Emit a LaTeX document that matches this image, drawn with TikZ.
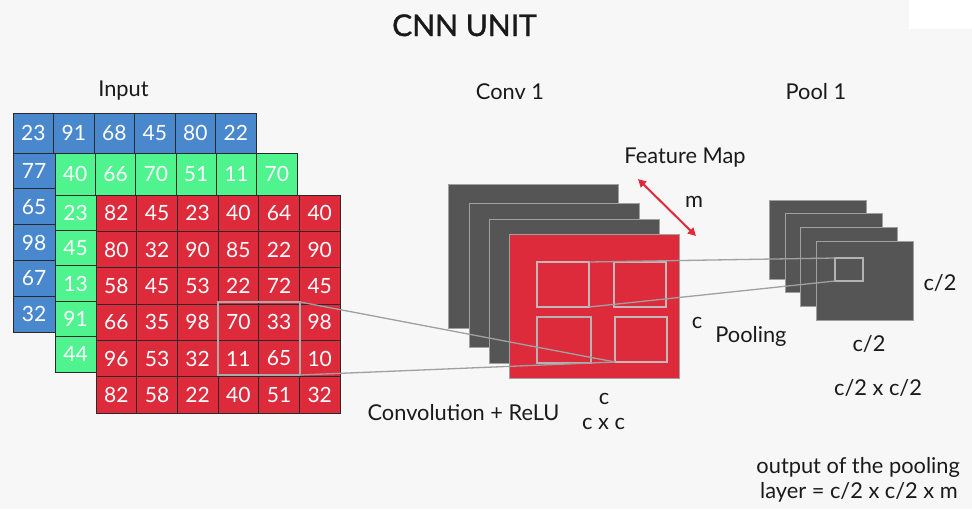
\documentclass[tikz,border=0pt]{standalone}
\usepackage{fontspec}
\setmainfont{Lato}
\newfontfamily\titlefont{Lato}[FakeBold=1.2]
\usetikzlibrary{arrows.meta}
\definecolor{bg}{HTML}{F7F7F7}
\definecolor{cblue}{HTML}{4A88CE}
\definecolor{cgreen}{HTML}{4FF48F}
\definecolor{cred}{HTML}{DD2B3C}
\definecolor{dgray}{HTML}{555555}
\definecolor{lgray}{HTML}{A0A0A0}
\definecolor{sqgray}{HTML}{C2B8BA}
\definecolor{gridc}{HTML}{2A2A2A}
\definecolor{txt}{HTML}{1A1A1A}
\tikzset{
  cell/.style={draw=gridc, line width=0.9pt, inner sep=0pt, outer sep=0pt,
    text=white, font=\fontsize{21}{21}\selectfont},
  bcell/.style={cell, fill=cblue},
  gcell/.style={cell, fill=cgreen},
  rcell/.style={cell, fill=cred, minimum width=40.67pt, minimum height=36.33pt},
  plate/.style={draw=lgray, line width=0.9pt, inner sep=0pt, outer sep=0pt},
  convback/.style={plate, fill=dgray, minimum width=170pt, minimum height=144pt},
  convfront/.style={plate, fill=cred, minimum width=170pt, minimum height=144pt},
  poolback/.style={plate, fill=dgray, minimum width=97pt, minimum height=79pt},
  subsq/.style={draw=sqgray, line width=1.8pt, inner sep=0pt, outer sep=0pt},
  link/.style={draw=lgray, line width=1.3pt},
  lbl/.style={text=txt, font=\fontsize{21.8}{26}\selectfont, inner sep=0pt, anchor=base},
}
\begin{document}
\begin{tikzpicture}[x=1pt,y=-1pt]
\fill[bg] (0,0) rectangle (972,509);
\fill[white] (909,0) rectangle (972,29);
\useasboundingbox (0,0) rectangle (972,509);

% ---- blue layer
\foreach \v [count=\i from 0] in {23,91,68,45,80,22}
  \node[bcell, minimum width=40.5pt, minimum height=40pt] (b0\i) at ({13+40.5*\i+20.25},133) {\v};
\foreach \v [count=\j from 1] in {77,65,98,67,32}
  \node[bcell, minimum width=42pt, minimum height=35.8pt] (b\j0) at (34,{153+35.8*(\j-0.5)}) {\v};

% ---- green layer
\foreach \v [count=\i from 0] in {40,66,70,51,11,70}
  \node[gcell, minimum width=40.33pt, minimum height=42pt] (g0\i) at ({55+40.33*\i+20.17},174) {\v};
\foreach \v [count=\j from 1] in {23,45,13,91,44}
  \node[gcell, minimum width=41pt, minimum height=35.4pt] (g\j0) at (75.5,{195+35.4*(\j-0.5)}) {\v};

% ---- red layer
\foreach \row [count=\j from 0] in {{82,45,23,40,64,40},{80,32,90,85,22,90},{58,45,53,22,72,45},{66,35,98,70,33,98},{96,53,32,11,65,10},{82,58,22,40,51,32}}
  \foreach \v [count=\i from 0] in \row
    \node[rcell] (r\j\i) at ({96+40.67*(\i+0.5)},{195+36.33*(\j+0.5)}) {\v};

\node[draw=lgray!90, line width=2pt, minimum width=82pt, minimum height=73pt, inner sep=0pt, outer sep=0pt] (hl) at (259,338.5) {};

% ---- conv stack
\node[convback] (cb1) at (533,256.5) {};
\node[convback] (cb2) at (554,275) {};
\node[convback] (cb3) at (574,291) {};
\node[convfront] (cf) at (594,306) {};
\node[subsq, minimum width=52pt, minimum height=45pt] (sq1) at (563,284.5) {};
\node[subsq, minimum width=52pt, minimum height=45pt] (sq2) at (640,284.5) {};
\node[subsq, draw=lgray!80, line width=2.4pt, minimum width=54pt, minimum height=46pt] (sq3) at (564,340) {};
\node[subsq, minimum width=52pt, minimum height=45pt] (sq4) at (641,339.5) {};

% ---- pool stack
\node[poolback] (p1) at (817.5,239.5) {};
\node[poolback] (p2) at (834,253) {};
\node[poolback] (p3) at (849,266.5) {};
\node[poolback] (p4) at (864.5,280.5) {};
\node[subsq, draw=lgray!80, line width=1.5pt, minimum width=28pt, minimum height=23pt] (ps) at (849,269.5) {};

% ---- connectors
\draw[link] (hl.north east) -- (sq4.south west);
\draw[link] (hl.south east) -- (sq4.south west);
\draw[link] (sq1.north east) -- (ps.north west);
\draw[link] (sq1.south east) -- (ps.south west);

\coordinate (ma) at (638,179);
\coordinate (mb) at (696,236);
\draw[cred, line width=2pt, {Triangle[length=8pt,width=8pt]}-{Triangle[length=8pt,width=8pt]}] (ma) -- (mb);

% ---- labels
\node[lbl, font=\titlefont\fontsize{30}{30}\selectfont] (title) at (464.5,36) {CNN UNIT};
\node[lbl] (tin) at (123.5,96) {Input};
\node[lbl] (tconv) at (510,99) {Conv 1};
\node[lbl] (tpool) at (816,99) {Pool 1};
\node[lbl] (tfm) at (685,163) {Feature Map};
\node[lbl] (tm) at (694,207) {m};
\node[lbl] (tc1) at (697,328) {c};
\node[lbl] (tpooling) at (751,342) {Pooling};
\node[lbl] (tc2r) at (940,290) {c/2};
\node[lbl] (tc2b) at (869,351) {c/2};
\node[lbl] (tc2x) at (878,395) {c/2 x c/2};
\node[lbl] (tcr) at (463.5,420) {Convolution + ReLU};
\node[lbl] (tc) at (604,404) {c};
\node[lbl] (tcxc) at (603.5,429) {c x c};
\node[lbl, anchor=base east] (tout1) at (960,473) {output of the pooling};
\node[lbl, anchor=base east] (tout2) at (958,498) {layer = c/2 x c/2 x m};
\end{tikzpicture}
\end{document}
